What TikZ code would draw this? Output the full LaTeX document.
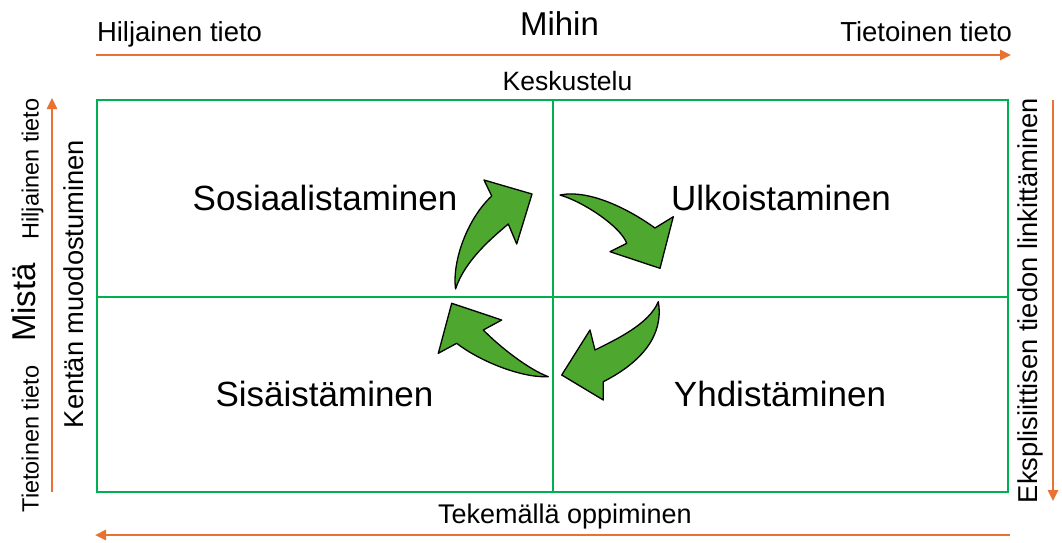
\documentclass[tikz,border=0pt]{standalone}
\usepackage{fontspec}
\setmainfont{Liberation Sans}
\usetikzlibrary{arrows.meta}
\definecolor{axisorange}{HTML}{E97132}
\definecolor{gridgreen}{HTML}{00B050}
\definecolor{arrowgreen}{HTML}{4EA72E}
\newcommand{\fsz}[1]{\fontsize{#1}{#1}\selectfont}
\begin{document}
\begin{tikzpicture}[x=1pt,y=-1pt,
  lbl/.style={inner sep=0pt,outer sep=0pt,text=black},
  axis/.style={draw=axisorange,line width=2.5pt,-{Triangle[length=11pt,width=10pt]}},
  grid/.style={draw=gridgreen,line width=2pt},
  cyc/.style={fill=arrowgreen,draw=black,line width=1.3pt,line join=round}]
\useasboundingbox (0,0) rectangle (1062,542);
% grid
\draw[grid] (97,99.5) rectangle (1008,491.5);
\coordinate (mt) at (553,99.5);
\coordinate (mb) at (553,491.5);
\coordinate (ml) at (97,296.5);
\coordinate (mr) at (1008,296.5);
\draw[grid] (mt) -- (mb);
\draw[grid] (ml) -- (mr);
% axes
\coordinate (ta) at (96,55);
\coordinate (tb) at (1011,55);
\draw[axis] (ta) -- (tb);
\coordinate (ba) at (1010,535);
\coordinate (bb) at (95,535);
\draw[axis] (ba) -- (bb);
\coordinate (la) at (52,492);
\coordinate (lb) at (52,98);
\draw[axis] (la) -- (lb);
\coordinate (ra) at (1053,100);
\coordinate (rb) at (1053,501);
\draw[axis] (ra) -- (rb);
% top texts
\node[lbl,anchor=base west] (hil) at (97,41.7) {\fsz{27.5}Hiljainen tieto};
\node[lbl,anchor=base] (mihin) at (559.5,35) {\fsz{33}Mihin};
\node[lbl,anchor=base east] (tie) at (1012,41.5) {\fsz{27.5}Tietoinen tieto};
\node[lbl,anchor=base] (kesk) at (567.5,90) {\fsz{26.5}Keskustelu};
\node[lbl,anchor=base] (tek) at (565,523.3) {\fsz{27}Tekemällä oppiminen};
% left texts
\node[lbl,anchor=base,rotate=90] (mista) at (35,302.5) {\fsz{33}Mistä};
\node[lbl,anchor=base,rotate=90] (lhil) at (38.5,169) {\fsz{23.5}Hiljainen tieto};
\node[lbl,anchor=base,rotate=90] (ltie) at (38.5,439) {\fsz{23.5}Tietoinen tieto};
\node[lbl,anchor=base,rotate=90] (kent) at (83.5,284) {\fsz{27.3}Kentän muodostuminen};
% right text
\node[lbl,anchor=base,rotate=90] (eks) at (1037.5,300.5) {\fsz{27.3}Eksplisiittisen tiedon linkittäminen};
% quadrant labels
\node[lbl,anchor=base] (sos) at (325,210) {\fsz{35}Sosiaalistaminen};
\node[lbl,anchor=base] (ulk) at (781,210) {\fsz{35}Ulkoistaminen};
\node[lbl,anchor=base] (sis) at (324.5,406) {\fsz{35}Sisäistäminen};
\node[lbl,anchor=base] (yhd) at (780,406) {\fsz{35}Yhdistäminen};
% cycle arrows
% top-left (up-right)
\filldraw[cyc] (455.5,289) .. controls (452,260) and (468,218) .. (491.7,196)
  -- (484,180) -- (532,194) -- (516.7,244) -- (508.3,224)
  .. controls (493,237) and (465,260) .. cycle;
% top-right (down-right)
\filldraw[cyc] (560,195) .. controls (590,189) and (630,210) .. (655,228)
  -- (673.3,216.7) -- (660,268.3) -- (610,251.7) -- (626.7,243.3)
  .. controls (621,227) and (584,202) .. cycle;
% bottom-right (down-left)
\filldraw[cyc] (658.3,301.7) .. controls (664,335) and (642,362) .. (603.3,381.7)
  -- (603.3,400) -- (561.7,375) -- (590,330) -- (595,350)
  .. controls (617,339) and (649,324) .. cycle;
% bottom-left (up-left)
\filldraw[cyc] (548.3,376.7) .. controls (520,378) and (478,360) .. (456.7,343.3)
  -- (438.3,353.3) -- (451.7,303.3) -- (501.7,320) -- (483.3,330)
  .. controls (500,347) and (528,369) .. cycle;
\end{tikzpicture}
\end{document}
